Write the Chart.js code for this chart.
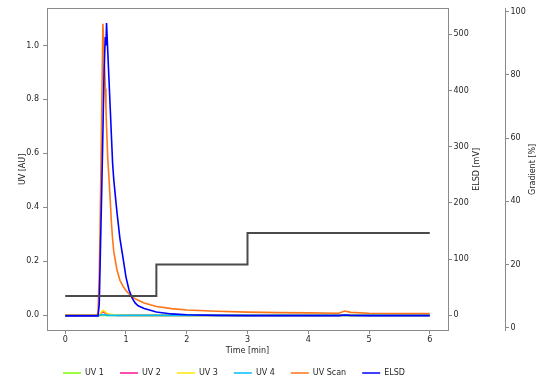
<!DOCTYPE html>
<html>
<head>
<meta charset="utf-8">
<script src="https://cdn.jsdelivr.net/npm/chart.js@4"></script>
<style>
  html, body { margin: 0; padding: 0; background: #ffffff; }
  #wrap { width: 554px; height: 383px; }
</style>
</head>
<body>
<div id="wrap"><canvas id="c" width="554" height="383"></canvas></div>
<script>
// ---- data ----
const timeMin = [0, 0.5, 0.52, 0.54, 0.56, 0.58, 0.6, 0.62, 0.64, 0.66, 0.67, 0.68, 0.7, 0.72, 0.74, 0.76, 0.78, 0.8, 0.85, 0.9, 0.95, 1.0, 1.05, 1.1, 1.15, 1.2, 1.3, 1.4, 1.5, 1.75, 2.0, 2.5, 3.0, 3.5, 4.0, 4.5, 4.6, 4.7, 5.0, 5.5, 6.0];

const uv1 = [0, 0, 0, 0, 0, 0, 0, 0, 0, 0, 0, 0, 0, 0, 0, 0, 0, 0, 0, 0, 0, 0, 0, 0, 0, 0, 0, 0, 0, 0, 0, 0, 0, 0, 0, 0, 0, 0, 0, 0, 0];
const uv2 = [0, 0, 0, 0, 0, 0.004, 0.01, 0.013, 0.011, 0.008, 0.006, 0.005, 0.003, 0.002, 0.002, 0.001, 0.001, 0.001, 0, 0, 0, 0, 0, 0, 0, 0, 0, 0, 0, 0, 0, 0, 0, 0, 0, 0, 0, 0, 0, 0, 0];
const uv3 = [0, 0, 0, 0, 0, 0.006, 0.014, 0.018, 0.016, 0.012, 0.01, 0.008, 0.006, 0.005, 0.004, 0.003, 0.003, 0.002, 0.002, 0.001, 0.001, 0.001, 0, 0, 0, 0, 0, 0, 0, 0, 0, 0, 0, 0, 0, 0, 0, 0, 0, 0, 0];
const uv4 = [0, 0, 0, 0, 0, 0.001, 0.002, 0.003, 0.002, 0.001, 0.001, 0.001, 0, 0, 0, 0, 0, 0, 0, 0, 0, 0, 0, 0, 0, 0, 0, 0, 0, 0, 0, 0, 0, 0, 0, 0, 0, 0, 0, 0, 0];
const uvScan = [0, 0, 0, 0.01, 0.15, 0.42, 0.75, 1.08, 0.98, 0.84, 0.77, 0.7, 0.58, 0.51, 0.43, 0.345, 0.28, 0.235, 0.17, 0.13, 0.108, 0.092, 0.079, 0.069, 0.062, 0.056, 0.046, 0.039, 0.033, 0.025, 0.02, 0.015, 0.012, 0.01, 0.009, 0.008, 0.016, 0.011, 0.008, 0.007, 0.007];
const elsd = [-1, -1, -1, -1, 20, 120, 218, 324, 440, 495, 480, 520, 470, 420, 370, 320, 270, 240, 185, 137, 103, 68, 45, 31, 22, 17, 12, 9, 6, 2.5, 1, 0, -0.5, -0.5, -0.5, -0.5, 0.5, 0, -0.5, -0.5, -0.5];

const gradientTime = [0, 1.5, 3, 6];
const gradientPct = [10, 20, 30, 30];

const seriesLabels = ['UV 1', 'UV 2', 'UV 3', 'UV 4', 'UV Scan', 'ELSD'];
const seriesColors = ['#7cfc00', '#ff1493', '#ffe800', '#00bfff', '#ff7518', '#0000ff'];

const xTicks = [0, 1, 2, 3, 4, 5, 6];
const uvTicks = [0.0, 0.2, 0.4, 0.6, 0.8, 1.0];
const elsdTicks = [0, 100, 200, 300, 400, 500];
const gradTicks = [0, 20, 40, 60, 80, 100];

// ---- chart ----
const FONT = 'DejaVu Sans';
const TXT = '#262626';
const SPINE = '#8a8a8a';
Chart.defaults.font.family = FONT;
Chart.defaults.font.size = 8;
Chart.defaults.color = TXT;

const toPts = (xs, ys) => xs.map((x, i) => ({ x: x, y: ys[i] }));
const seriesData = [uv1, uv2, uv3, uv4, uvScan, elsd];

const datasets = seriesData.map((vals, i) => ({
  label: seriesLabels[i],
  data: toPts(timeMin, vals),
  xAxisID: 'x',
  yAxisID: i === 5 ? 'yELSD' : 'yUV',
  borderColor: seriesColors[i],
  backgroundColor: seriesColors[i],
  borderWidth: 1.6,
  pointRadius: 0,
  tension: 0,
  order: 6 - i
}));
datasets.push({
  label: 'Gradient',
  data: toPts(gradientTime, gradientPct),
  xAxisID: 'x',
  yAxisID: 'yGrad',
  stepped: 'before',
  borderColor: '#4a4a4a',
  backgroundColor: '#4a4a4a',
  borderWidth: 2,
  pointRadius: 0,
  order: 0
});

const fixTicks = (arr) => (scale) => { scale.ticks = arr.map(v => ({ value: v })); };
const setW = (w) => (scale) => { scale.width = w; };
const setH = (h) => (scale) => { scale.height = h; };
const gridOpts = { display: true, drawOnChartArea: false, drawTicks: true, tickLength: 4, color: SPINE, tickColor: SPINE };
const borderOpts = { display: true, color: SPINE, width: 1 };

const rightTitles = {
  id: 'rightTitles',
  afterDraw(chart) {
    const ctx = chart.ctx;
    [['yELSD', 28.5], ['yGrad', 27.7]].forEach(([id, dx]) => {
      const s = chart.scales[id];
      ctx.save();
      ctx.translate(s.left + dx, (s.top + s.bottom) / 2);
      ctx.rotate(-Math.PI / 2);
      ctx.font = '8px "' + FONT + '"';
      ctx.fillStyle = TXT;
      ctx.textAlign = 'center';
      ctx.textBaseline = 'middle';
      ctx.fillText(s.options.title.text, 0, 0);
      ctx.restore();
    });
  }
};

new Chart(document.getElementById('c'), {
  type: 'line',
  data: { datasets },
  plugins: [rightTitles],
  options: {
    responsive: false,
    animation: false,
    layout: { padding: { top: 8, left: 0, right: 0, bottom: -4 } },
    plugins: {
      tooltip: { enabled: false },
      legend: {
        position: 'bottom',
        fullSize: false,
        align: 'start',
        labels: {
          boxWidth: 18,
          boxHeight: 0,
          padding: 16,
          color: TXT,
          font: { size: 8, family: FONT },
          filter: (item) => item.datasetIndex < 6,
          sort: (a, b) => a.datasetIndex - b.datasetIndex
        }
      }
    },
    scales: {
      x: {
        type: 'linear',
        position: 'bottom',
        min: -0.3,
        max: 6.3,
        afterBuildTicks: fixTicks(xTicks),
        afterFit: setH(23),
        ticks: { padding: 1, color: TXT, callback: (v) => String(v) },
        grid: gridOpts,
        border: borderOpts,
        title: { display: true, text: 'Time [min]', color: TXT, font: { size: 8, lineHeight: 1 }, padding: { top: 0, bottom: -1.5 } }
      },
      xTop: {
        type: 'linear',
        position: 'top',
        min: -0.3,
        max: 6.3,
        afterFit: setH(0),
        ticks: { display: false },
        grid: { display: false },
        border: borderOpts
      },
      yUV: {
        type: 'linear',
        position: 'left',
        min: -0.0543,
        max: 1.1357,
        afterBuildTicks: fixTicks(uvTicks),
        afterFit: setW(47),
        ticks: { padding: 4, color: TXT, callback: (v) => Number(v).toFixed(1) },
        grid: gridOpts,
        border: borderOpts,
        title: { display: true, text: 'UV [AU]', color: TXT, font: { size: 8, lineHeight: 1 }, padding: { top: 18.7, bottom: 0 } }
      },
      yELSD: {
        type: 'linear',
        position: 'right',
        weight: 1,
        min: -26.1,
        max: 545.2,
        afterBuildTicks: fixTicks(elsdTicks),
        afterFit: setW(57),
        ticks: { padding: 1.5, color: TXT, callback: (v) => String(v) },
        grid: gridOpts,
        border: borderOpts,
        title: { display: false, text: 'ELSD [mV]' }
      },
      yGrad: {
        type: 'linear',
        position: 'right',
        weight: 2,
        min: -0.75,
        max: 100.95,
        afterBuildTicks: fixTicks(gradTicks),
        afterFit: setW(49),
        ticks: { padding: 1.5, color: TXT, callback: (v) => String(v) },
        grid: gridOpts,
        border: borderOpts,
        title: { display: false, text: 'Gradient [%]' }
      }
    }
  }
});
</script>
</body>
</html>
